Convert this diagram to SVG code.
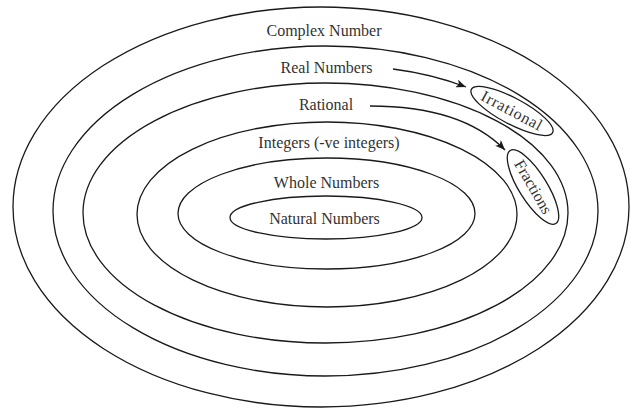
<svg xmlns="http://www.w3.org/2000/svg" width="640" height="408" viewBox="0 0 640 408">
<style>
.e{fill:none;stroke:#1a1a1a;stroke-width:1.3}
.t{font-family:"Liberation Serif",serif;font-size:16px;fill:#333;text-anchor:middle}
.c{fill:none;stroke:#1a1a1a;stroke-width:1.3}
</style>
<defs>
<marker id="ah" viewBox="0 0 10 8" refX="10" refY="4" markerWidth="10" markerHeight="8" markerUnits="userSpaceOnUse" orient="auto">
<path d="M0,0 L10,4 L0,8 L2.5,4 Z" fill="#1a1a1a"/>
</marker>
</defs>
<rect width="640" height="408" fill="#fff"/>
<g id="complex"><ellipse class="e" cx="321" cy="207" rx="308" ry="200"/><text class="t" x="324" y="36">Complex Number</text></g>
<g id="real"><ellipse class="e" cx="325.5" cy="211" rx="272.5" ry="165"/><text class="t" x="326.5" y="73">Real Numbers</text></g>
<g id="rational"><ellipse class="e" cx="325.5" cy="213" rx="242.5" ry="130"/><text class="t" x="326" y="110">Rational</text></g>
<g id="integers"><ellipse class="e" cx="327" cy="214.5" rx="190" ry="92.5"/><text class="t" x="329" y="148">Integers (-ve integers)</text></g>
<g id="whole"><ellipse class="e" cx="326.5" cy="213.5" rx="148.5" ry="55.5"/><text class="t" x="326.5" y="188">Whole Numbers</text></g>
<g id="natural"><ellipse class="e" cx="326" cy="217.5" rx="96" ry="21.5"/><text class="t" x="324.5" y="224">Natural Numbers</text></g>
<g id="irrational"><ellipse class="e" cx="512" cy="111" rx="46" ry="13" transform="rotate(28 512 111)"/><text class="t" x="512" y="116" transform="rotate(28 512 111)" letter-spacing="0.8">Irrational</text></g>
<g id="fractions"><ellipse class="e" cx="533" cy="187" rx="43" ry="14" transform="rotate(58 533 187)"/><text class="t" x="533" y="192" transform="rotate(60 533 187)">Fractions</text></g>
<g id="connectors">
<path class="c" d="M393,69 Q432,74 466,87" marker-end="url(#ah)"/>
<path class="c" d="M370,106 Q462,106 505,150" marker-end="url(#ah)"/>
</g>
</svg>
